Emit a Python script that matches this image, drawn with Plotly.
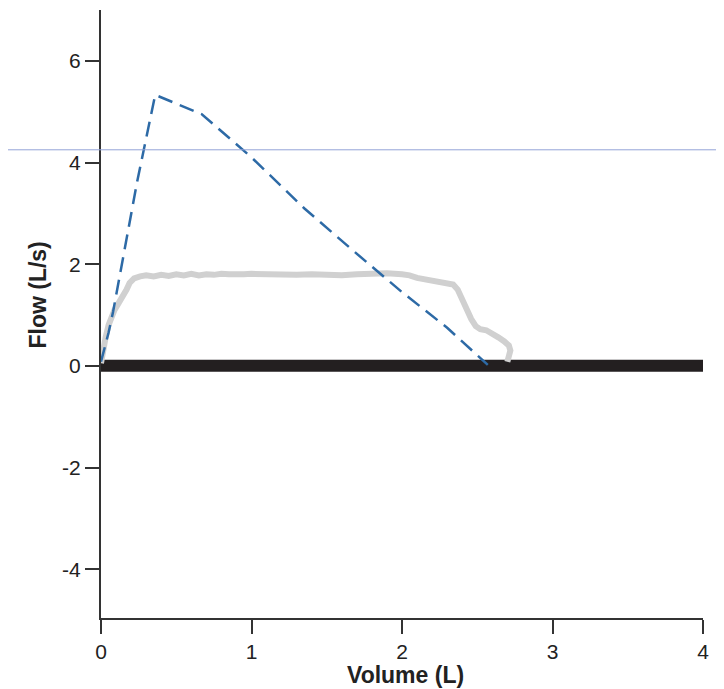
import plotly.graph_objects as go

# Grey measured curve
grey_x = [0.0, 0.01, 0.03, 0.05, 0.07, 0.09, 0.11, 0.13, 0.15, 0.17, 0.19, 0.22, 0.26, 0.30,
          0.35, 0.40, 0.45, 0.50, 0.55, 0.60, 0.65, 0.70, 0.75, 0.80, 0.85, 0.90, 0.95, 1.00,
          1.10, 1.20, 1.30, 1.40, 1.50, 1.60, 1.70, 1.80, 1.90, 2.00, 2.05, 2.10, 2.15, 2.20,
          2.25, 2.30, 2.34, 2.37, 2.40, 2.43, 2.46, 2.49, 2.52, 2.56, 2.60, 2.64, 2.68, 2.71,
          2.72, 2.71, 2.70]
grey_y = [0.05, 0.30, 0.55, 0.80, 0.97, 1.10, 1.20, 1.30, 1.37, 1.50, 1.63, 1.72, 1.76, 1.78,
          1.76, 1.79, 1.77, 1.80, 1.78, 1.81, 1.78, 1.80, 1.79, 1.81, 1.80, 1.79, 1.80, 1.81,
          1.80, 1.80, 1.79, 1.80, 1.79, 1.78, 1.80, 1.81, 1.82, 1.80, 1.78, 1.73, 1.70, 1.67,
          1.64, 1.62, 1.60, 1.50, 1.30, 1.10, 0.92, 0.78, 0.72, 0.70, 0.64, 0.56, 0.48, 0.40,
          0.30, 0.18, 0.08]

# Dashed predicted curve
dash_x = [0.0, 0.05, 0.08, 0.15, 0.24, 0.36, 0.67, 1.0, 1.35, 1.67, 2.0, 2.3, 2.57]
dash_y = [0.08, 0.65, 1.06, 2.20, 3.62, 5.33, 4.95, 4.10, 3.10, 2.28, 1.45, 0.75, 0.02]

# Zero-flow baseline
base_x = [0, 4]
base_y = [0, 0]

x_ticks = [0, 1, 2, 3, 4]
x_labels = ["0", "1", "2", "3", "4"]
y_ticks = [-4, -2, 0, 2, 4, 6]
y_labels = ["-4", "-2", "0", "2", "4", "6"]

fig = go.Figure()
fig.add_trace(go.Scatter(x=base_x, y=base_y, mode="lines",
                         line=dict(color="#231f20", width=12), hoverinfo="skip"))
fig.add_trace(go.Scatter(x=grey_x, y=grey_y, mode="lines",
                         line=dict(color="#d0d0d0", width=6), hoverinfo="skip"))
fig.add_trace(go.Scatter(x=dash_x, y=dash_y, mode="lines",
                         line=dict(color="#2d6aa6", width=2.5, dash="15px,8px"), hoverinfo="skip"))

fig.add_shape(type="line", xref="paper", yref="y", x0=-0.2, x1=1.1,
              y0=4.25, y1=4.25, line=dict(color="#93a3d8", width=1))

axis_common = dict(showline=True, linewidth=2, linecolor="#333333", ticks="outside",
                   ticklen=14, tickwidth=2, tickcolor="#333333", showgrid=False,
                   zeroline=False, tickfont=dict(family="Liberation Sans", size=21, color="#222"))

title_font = dict(family="Liberation Sans", size=23, color="#222")

fig.update_layout(
    width=724, height=689,
    margin=dict(l=93, r=29, t=2, b=79),
    paper_bgcolor="white", plot_bgcolor="white",
    showlegend=False,
    xaxis=dict(range=[0, 4], tickvals=x_ticks, ticktext=x_labels, **axis_common),
    yaxis=dict(range=[-4.96, 7.0], tickvals=y_ticks, ticktext=y_labels, **axis_common),
    annotations=[
        dict(text="<b>Flow (L/s)</b>", xref="paper", yref="paper",
             x=-0.104, y=0.531, xanchor="center", yanchor="middle",
             textangle=-90, showarrow=False, font=title_font),
        dict(text="<b>Volume (L)</b>", xref="paper", yref="paper",
             x=0.505, y=-0.094, xanchor="center", yanchor="middle",
             showarrow=False, font=title_font),
    ],
)

fig.write_html("out.html")
